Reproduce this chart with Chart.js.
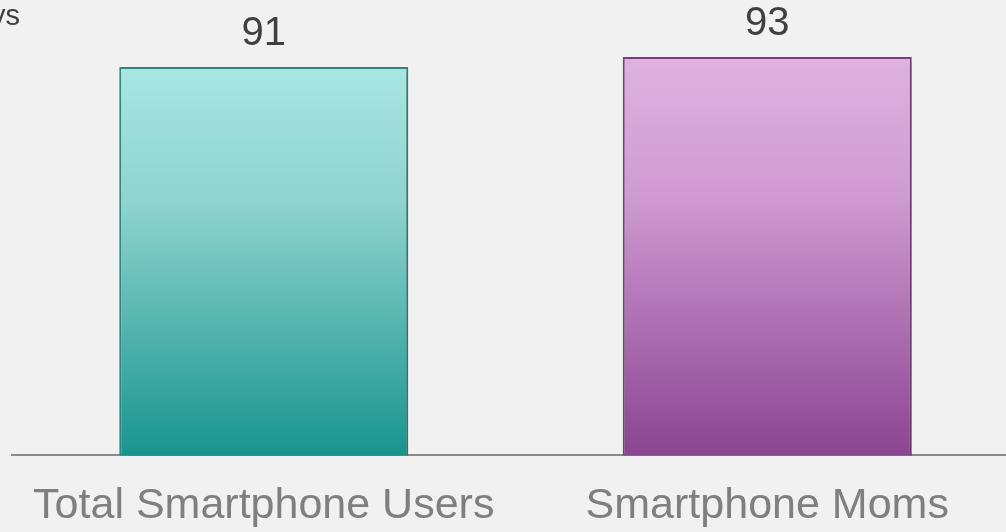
<!DOCTYPE html>
<html>
<head>
<meta charset="utf-8">
<script src="https://cdn.jsdelivr.net/npm/chart.js@4/dist/chart.umd.min.js"></script>
<style>
  html, body { margin: 0; padding: 0; overflow: hidden; background: #f1f1f1; }
  #wrap { width: 1019px; height: 532px; }
</style>
</head>
<body>
<div id="wrap"><canvas id="c" width="1019" height="532"></canvas></div>
<script>
// Categories and values
const categories = ['Total Smartphone Users', 'Smartphone Moms'];
const values = [91, 93];

// Gradient colour stops per bar (top -> bottom)
const topColors = ['#a8e6e2', '#dfb2e0'];
const midColors = ['#8fd3ce', '#cf9ad2'];
const bottomColors = ['#18948d', '#8a4590'];
const borderColors = ['#2b8a84', '#7c3f80'];

function barGradient(ctx) {
  const chart = ctx.chart;
  const i = ctx.dataIndex;
  const area = chart.chartArea;
  if (!area || i === undefined) return topColors[i || 0];
  const yScale = chart.scales.y;
  const yTop = yScale.getPixelForValue(values[i]);
  const yBot = yScale.getPixelForValue(yScale.min);
  const g = chart.ctx.createLinearGradient(0, yTop, 0, yBot);
  g.addColorStop(0, topColors[i]);
  g.addColorStop(0.35, midColors[i]);
  g.addColorStop(1, bottomColors[i]);
  return g;
}

// Soft drop shadow behind the bars
const barShadow = {
  id: 'barShadow',
  beforeDatasetsDraw(chart) {
    const c = chart.ctx;
    c.save();
    c.shadowColor = 'rgba(0,0,0,0.18)';
    c.shadowBlur = 6;
    c.shadowOffsetX = 3;
    c.shadowOffsetY = 2;
  },
  afterDatasetsDraw(chart) {
    chart.ctx.restore();
  }
};

// Value labels above each bar, plus the corner caption
const valueLabels = {
  id: 'valueLabels',
  afterDraw(chart) {
    const c = chart.ctx;
    const meta = chart.getDatasetMeta(0);
    c.save();
    c.fillStyle = '#404040';
    c.font = '40px "Liberation Sans", Arial, sans-serif';
    c.textAlign = 'center';
    c.textBaseline = 'alphabetic';
    meta.data.forEach((bar, i) => {
      c.fillText(String(values[i]), bar.x, bar.y - 22);
    });
    c.font = '29px "Liberation Sans", Arial, sans-serif';
    c.textAlign = 'left';
    c.fillText('ys', -9, 25);
    c.restore();
  }
};

new Chart(document.getElementById('c'), {
  type: 'bar',
  data: {
    labels: categories,
    datasets: [{
      data: values,
      backgroundColor: barGradient,
      borderColor: borderColors,
      borderWidth: 2,
      borderSkipped: false,
      barPercentage: 0.574,
      categoryPercentage: 1
    }]
  },
  options: {
    responsive: false,
    animation: false,
    devicePixelRatio: 1,
    layout: { padding: { left: 12, right: 0, top: 0, bottom: -25 } },
    plugins: { legend: { display: false }, tooltip: { enabled: false }, title: { display: false } },
    scales: {
      y: { display: false, min: 13.4, max: 104.4 },
      x: {
        grid: { display: false, drawTicks: false },
        border: { display: true, color: '#8a8a8a', width: 2 },
        ticks: {
          color: '#7f7f7f',
          padding: 25,
          font: { size: 43, family: '"Liberation Sans", Arial, sans-serif' }
        }
      }
    }
  },
  plugins: [barShadow, valueLabels]
});
</script>
</body>
</html>
